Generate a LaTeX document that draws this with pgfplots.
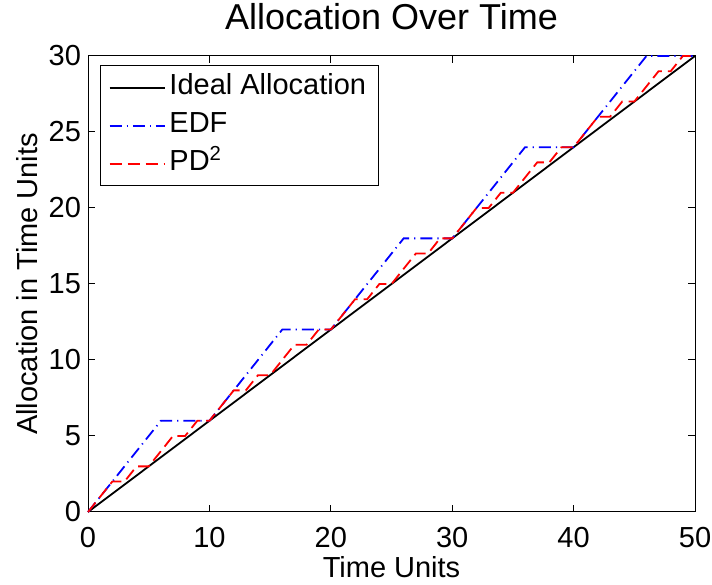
\documentclass[border=0pt]{standalone}
\usepackage{fontspec}
\setmainfont{Liberation Sans}
\usepackage{pgfplots}
\pgfplotsset{compat=1.18}

\newcommand{\lblfont}{\fontsize{14.5}{17}\selectfont}

\begin{document}
\begin{tikzpicture}
\begin{axis}[
  scale only axis, width=303.5pt, height=228pt,
  xmin=0, xmax=50, ymin=0, ymax=30,
  xtick={0,10,20,30,40,50}, ytick={0,5,10,15,20,25,30},
  tick align=inside, major tick length=3.5pt,
  axis line style={line width=0.5pt},
  every tick/.style={black, line width=0.5pt},
  tick label style={font=\lblfont},
  xticklabel style={yshift=-4pt},
  /pgf/number format/assume math mode=true,
  label style={font=\lblfont},
  xlabel={Time Units}, ylabel={Allocation in Time Units},
  xlabel style={at={(rel axis cs:0.5,-0.1206)}, anchor=center},
  ylabel style={at={(rel axis cs:-0.1005,0.5)}, anchor=center},
  clip=false,
  legend cell align=left,
  legend image code/.code={\draw[#1] (0pt,0pt) -- (27.5pt,0pt);},
  legend style={at={(rel axis cs:0.02,0.98)}, anchor=north west,
    draw=black, line width=0.5pt, fill=white, font=\lblfont,
    inner xsep=4pt, inner ysep=1.5pt, row sep=0pt,
    nodes={inner sep=2pt, text height=11pt, text depth=4pt}},
]
\addplot[black, line width=0.9pt] coordinates {(0,0) (50,30)};
\addlegendentry{Ideal Allocation}

\addplot[blue, line width=0.9pt, dash pattern=on 6pt off 2.5pt on 0.6pt off 2.5pt] coordinates {
(0,0)(1,1)(2,2)(3,3)(4,4)(5,5)(6,6)(7,6)(8,6)(9,6)(10,6)
(11,7)(12,8)(13,9)(14,10)(15,11)(16,12)(17,12)(18,12)(19,12)(20,12)
(21,13)(22,14)(23,15)(24,16)(25,17)(26,18)(27,18)(28,18)(29,18)(30,18)
(31,19)(32,20)(33,21)(34,22)(35,23)(36,24)(37,24)(38,24)(39,24)(40,24)
(41,25)(42,26)(43,27)(44,28)(45,29)(46,30)(47,30)(48,30)(49,30)(50,30)};
\addlegendentry{EDF}

\addplot[red, line width=0.9pt, dash pattern=on 6pt off 3pt] coordinates {
(0,0)(1,1)(2,2)(3,2)(4,3)(5,3)
(6,4)(7,5)(8,5)(9,6)(10,6)
(11,7)(12,8)(13,8)(14,9)(15,9)
(16,10)(17,11)(18,11)(19,12)(20,12)
(21,13)(22,14)(23,14)(24,15)(25,15)
(26,16)(27,17)(28,17)(29,18)(30,18)
(31,19)(32,20)(33,20)(34,21)(35,21)
(36,22)(37,23)(38,23)(39,24)(40,24)
(41,25)(42,26)(43,26)(44,27)(45,27)
(46,28)(47,29)(48,29)(49,30)(50,30)};
\addlegendentry{PD\textsuperscript{2}}

\node[anchor=base, font=\fontsize{18}{21}\selectfont] at (rel axis cs:0.5,1.059) {Allocation Over Time};
\coordinate (bbsw) at (rel axis cs:-0.145,-0.158);
\coordinate (bbne) at (rel axis cs:1.028,1.1228);
\end{axis}
\pgfresetboundingbox
\path[use as bounding box] (bbsw) rectangle (bbne);
\end{tikzpicture}
\end{document}
